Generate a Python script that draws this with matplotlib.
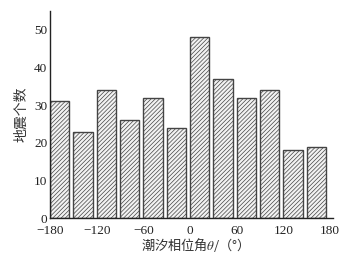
import matplotlib
matplotlib.use('Agg')
from matplotlib import pyplot as plt

plt.rcParams['font.family'] = ['Liberation Serif', 'Noto Sans CJK SC', 'DejaVu Sans']
plt.rcParams['mathtext.fontset'] = 'stix'
plt.rcParams['hatch.linewidth'] = 0.5
plt.rcParams['hatch.color'] = '#666666'

# bin left edges (degrees) and earthquake counts
bin_left = [-180, -150, -120, -90, -60, -30, 0, 30, 60, 90, 120, 150]
counts = [31, 23, 34, 26, 32, 24, 48, 37, 32, 34, 18, 19]
xticks = [-180, -120, -60, 0, 60, 120, 180]
yticks = [0, 10, 20, 30, 40, 50]

fig = plt.figure(figsize=(3.47, 2.56), dpi=100)
ax = fig.add_axes([0.144, 0.148, 0.816, 0.809])

ax.bar(bin_left, counts, width=25, align='edge', color='#f2f2f2',
       edgecolor='#444444', linewidth=1.0, hatch='////////')

ax.set_xlim(-180, 184)
ax.set_ylim(0, 55)
ax.set_xticks(xticks)
ax.set_yticks(yticks)
ax.set_xticklabels(['\u2212180', '\u2212120', '\u221260', '0', '60', '120', '180'])
ax.tick_params(length=0, labelsize=9.5, colors='#222222')
ax.tick_params(axis='x', pad=5)
ax.tick_params(axis='y', pad=2)

for s in ['top', 'right']:
  ax.spines[s].set_visible(False)
for s in ['left', 'bottom']:
  ax.spines[s].set_color('#222222')
  ax.spines[s].set_linewidth(1.0)

cjk = ['Noto Sans CJK SC', 'DejaVu Sans']
ax.set_ylabel('地震个数', family=cjk, fontsize=10, color='#333333', labelpad=4)
ax.set_xlabel('潮汐相位角$\\theta$/（°）', family=cjk, fontsize=9.5, color='#333333', labelpad=-0.5)

fig.savefig('out.png', dpi=100)
